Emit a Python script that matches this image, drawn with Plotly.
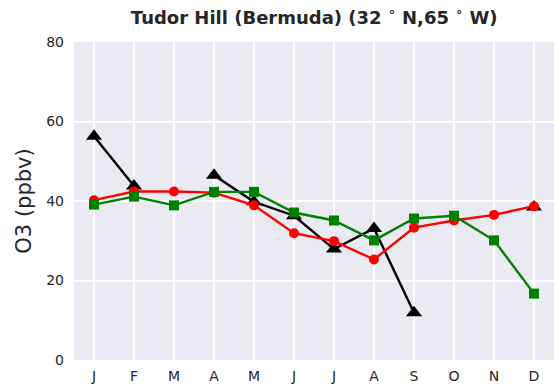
import plotly.graph_objects as go

months = ["J", "F", "M", "A", "M", "J", "J", "A", "S", "O", "N", "D"]
month_idx = list(range(12))

# Monthly mean surface ozone (ppbv); None marks months without data
obs_black = [56.3, 43.8, None, 46.5, 39.8, 36.3, 27.9, 33.1, 11.9, None, None, 38.5]
model_red = [40.2, 42.4, 42.4, 42.1, 38.9, 31.9, 29.9, 25.3, 33.3, 35.1, 36.5, 38.7]
model_green = [39.1, 41.1, 38.9, 42.3, 42.3, 37.1, 35.1, 30.1, 35.6, 36.3, 30.1, 16.7]

fig = go.Figure()

fig.add_trace(go.Scatter(
    x=month_idx, y=obs_black, mode="lines+markers",
    line=dict(color="black", width=2.4),
    marker=dict(symbol="triangle-up", size=14, color="black"),
    connectgaps=False, showlegend=False,
))
fig.add_trace(go.Scatter(
    x=month_idx, y=model_red, mode="lines+markers",
    line=dict(color="#ff0000", width=2.4),
    marker=dict(symbol="circle", size=10, color="#ff0000"),
    showlegend=False,
))
fig.add_trace(go.Scatter(
    x=month_idx, y=model_green, mode="lines+markers",
    line=dict(color="#008000", width=2.4),
    marker=dict(symbol="square", size=10, color="#008000"),
    showlegend=False,
))

fig.update_layout(
    width=556, height=392,
    margin=dict(l=74, r=2, t=42, b=32),
    paper_bgcolor="white",
    plot_bgcolor="#eaeaf2",
    font=dict(family="DejaVu Sans", size=14, color="#262626"),
    title=dict(
        text="<b>Tudor Hill (Bermuda) (32 <sup>∘</sup> N,65 <sup>∘</sup> W)</b>",
        x=0.5651, xanchor="center", y=0.955, yanchor="middle",
        font=dict(size=18, color="#262626"),
    ),
)
fig.update_xaxes(
    range=[-0.5, 11.5], tickmode="array", tickvals=month_idx, ticktext=months,
    showgrid=True, gridcolor="white", gridwidth=2, zeroline=False,
    showline=False, ticks="", ticklen=0, ticklabelstandoff=6,
    tickfont=dict(size=14, color="#262626"),
)
fig.update_yaxes(
    range=[0, 80], tickvals=[0, 20, 40, 60, 80],
    showgrid=True, gridcolor="white", gridwidth=2, zeroline=False,
    showline=False, ticks="", ticklabelstandoff=9,
    tickfont=dict(size=14, color="#262626"),
    title=dict(text="O3 (ppbv)", font=dict(size=21, color="#262626"), standoff=8),
)

fig.write_html("out.html")
